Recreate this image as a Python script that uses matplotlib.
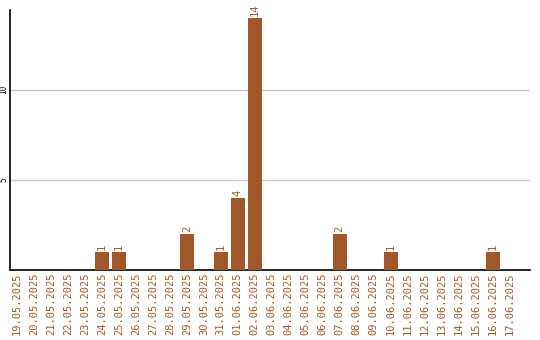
import matplotlib
matplotlib.use('Agg')
import matplotlib.pyplot as plt

# 日期与数量
dates = ['19.05.2025', '20.05.2025', '21.05.2025', '22.05.2025', '23.05.2025',
         '24.05.2025', '25.05.2025', '26.05.2025', '27.05.2025', '28.05.2025',
         '29.05.2025', '30.05.2025', '31.05.2025', '01.06.2025', '02.06.2025',
         '03.06.2025', '04.06.2025', '05.06.2025', '06.06.2025', '07.06.2025',
         '08.06.2025', '09.06.2025', '10.06.2025', '11.06.2025', '12.06.2025',
         '13.06.2025', '14.06.2025', '15.06.2025', '16.06.2025', '17.06.2025']
counts = [0, 0, 0, 0, 0, 1, 1, 0, 0, 0, 2, 0, 1, 4, 14,
          0, 0, 0, 0, 2, 0, 0, 1, 0, 0, 0, 0, 0, 1, 0]
yticks = [5, 10]

color = '#A0572A'
fig = plt.figure(figsize=(5.4, 3.4), dpi=100)
ax = fig.add_axes([0.0185, 0.206, 0.963, 0.765])

x = list(range(len(dates)))
ax.bar(x, counts, width=0.82, color=color, zorder=3)
for xi, c in zip(x, counts):
    if c > 0:
        ax.text(xi, c + 0.1, str(c), rotation=90, ha='center', va='bottom',
                color=color, fontsize=7.5, family='DejaVu Sans Mono')

ax.set_xlim(-0.41, 30.2)
ax.set_ylim(0, 14.44)
ax.set_xticks(x)
ax.set_xticklabels(dates, rotation=90, color=color, fontsize=7.5,
                   family='DejaVu Sans Mono')
ax.set_yticks(yticks)
ax.set_yticklabels([str(v) for v in yticks], rotation=90, va='center',
                   fontsize=5.5, family='DejaVu Sans Mono')
ax.tick_params(axis='x', length=0, pad=2)
ax.tick_params(axis='y', length=0, pad=1)
ax.grid(axis='y', color='#c8c8c8', linewidth=1, zorder=0)
ax.spines['top'].set_visible(False)
ax.spines['right'].set_visible(False)
ax.spines['left'].set_linewidth(1.2)
ax.spines['bottom'].set_linewidth(1.2)

fig.savefig('out.png', dpi=100)
